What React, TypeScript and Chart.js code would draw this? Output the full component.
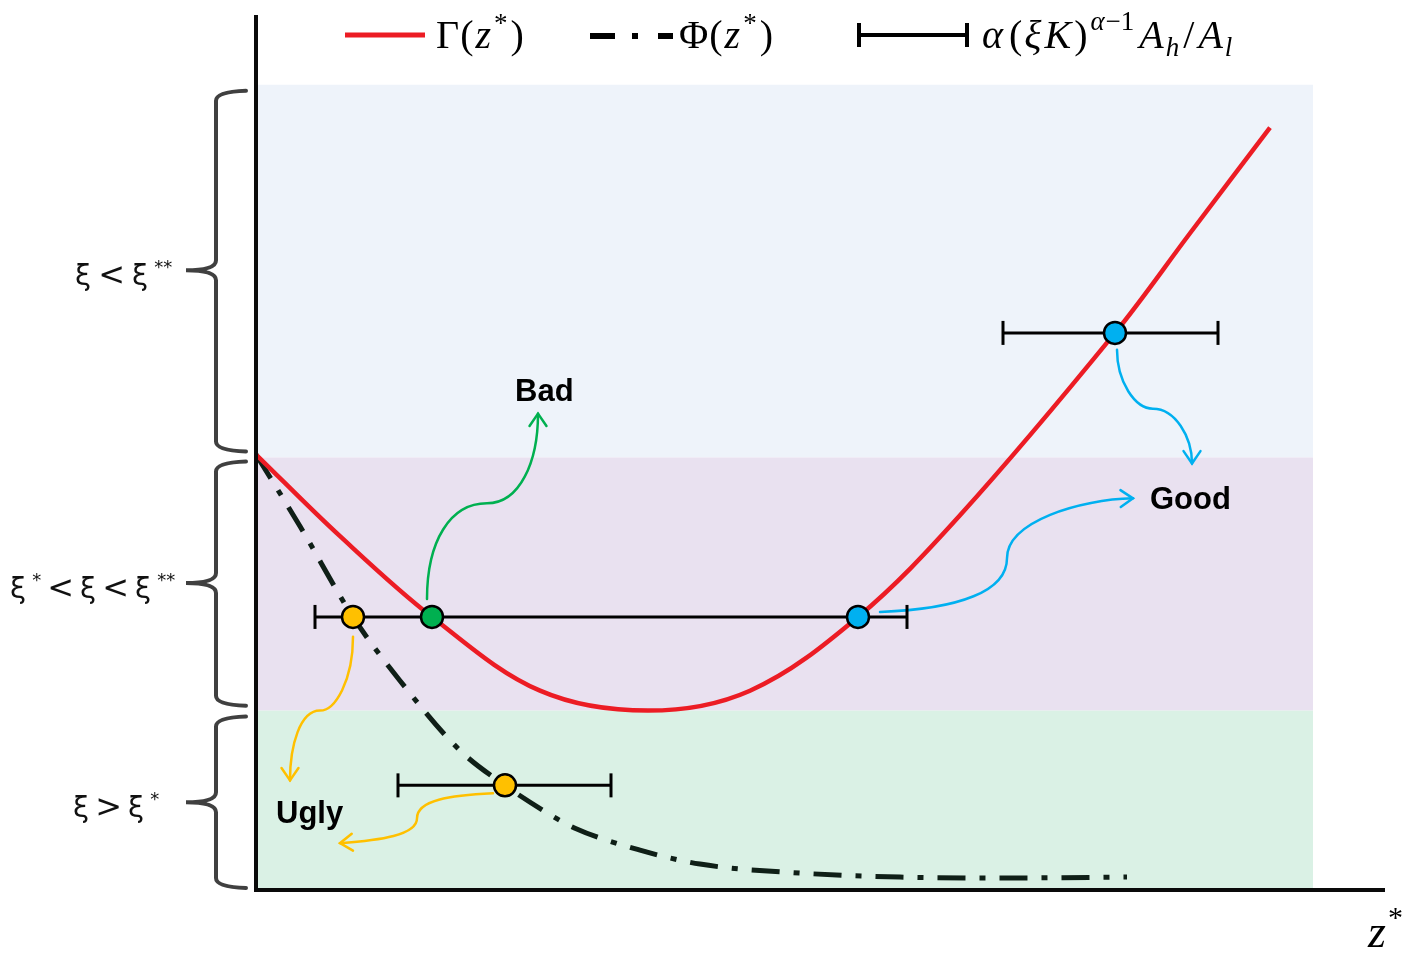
import React, { useEffect, useRef } from 'react';
import { Chart, registerables } from 'chart.js';

Chart.register(...registerables);

// ---- axis ranges (data units) ----
const X_MIN = 0;
const X_MAX = 11.29;
const Y_MIN = 0;
const Y_MAX = 8.78;

// ---- Γ(z*) curve ----
const gammaX = [0, 0.84, 1.76, 2.84, 3.92, 4.94, 6.02, 7.04, 8.59, 9.34, 10.14];
const gammaY = [4.37, 3.55, 2.74, 2.00, 1.80, 2.00, 2.74, 3.76, 5.59, 6.59, 7.65];

// ---- Φ(z*) curve ----
const phiX = [0, 0.44, 0.97, 1.44, 2.04, 2.49, 2.87, 3.19, 3.84, 4.44, 5.44, 6.44, 7.44, 8.71];
const phiY = [4.37, 3.65, 2.74, 2.10, 1.40, 1.05, 0.80, 0.62, 0.40, 0.26, 0.17, 0.13, 0.12, 0.13];

// ---- α(ξK)^{α-1}A_h/A_l ranges ----
const barY = [2.74, 1.05, 5.59];
const barLo = [0.59, 1.42, 7.47];
const barHi = [6.51, 3.55, 9.62];

// ---- equilibrium points ----
const dotX = [0.97, 1.76, 6.02, 2.49, 8.59];
const dotY = [2.74, 2.74, 2.74, 1.05, 5.59];
const dotColors = ['#ffc000', '#00b050', '#00b0f0', '#ffc000', '#00b0f0'];

// ---- regime bands ----
const bandLo = [4.34, 1.80, 0.02];
const bandHi = [8.08, 4.34, 1.80];
const bandEnd = 10.57;
const bandColors = ['#eef3fa', '#e9e1f0', '#daf1e5'];

// ---- regime brackets ----
const bracketTop = [8.02, 4.30, 1.74];
const bracketBottom = [4.40, 1.85, 0.02];
const bracketMid = [6.22, 3.08, 0.88];
const bracketLabelX = [-1.81, -2.46, -1.83];

// ---- outcome labels ----
const outcomeLabels = ['Bad', 'Good', 'Ugly'];
const outcomeX = [2.59, 8.94, 0.20];
const outcomeY = [4.91, 3.82, 0.67];

// ---- arrows (cubic bezier pairs, data units) ----
const arrows: { color: string; pts: number[][] }[] = [
  { color: '#00b050', pts: [[1.71, 2.92], [1.71, 3.50], [1.94, 3.88], [2.31, 3.88], [2.64, 3.88], [2.82, 4.30], [2.82, 4.78]] },
  { color: '#00b0f0', pts: [[8.61, 5.42], [8.61, 5.10], [8.79, 4.83], [8.97, 4.83], [9.19, 4.83], [9.36, 4.55], [9.36, 4.28]] },
  { color: '#00b0f0', pts: [[6.24, 2.79], [7.04, 2.82], [7.51, 3.00], [7.51, 3.33], [7.51, 3.70], [8.24, 3.92], [8.77, 3.93]] },
  { color: '#ffc000', pts: [[0.97, 2.54], [0.97, 2.10], [0.79, 1.80], [0.64, 1.80], [0.44, 1.80], [0.34, 1.45], [0.34, 1.10]] },
  { color: '#ffc000', pts: [[2.37, 0.97], [1.94, 0.95], [1.61, 0.90], [1.61, 0.72], [1.61, 0.55], [1.24, 0.50], [0.84, 0.47]] },
];

const SERIF = '"Liberation Serif", "DejaVu Serif", serif';
const R = `40px ${SERIF}`;
const I = `italic 40px ${SERIF}`;
const SUP = `27px ${SERIF}`;
const SUPI = `italic 27px ${SERIF}`;
const SANS = '"DejaVu Sans", "Noto Sans", sans-serif';
const LN = `29px ${SANS}`;
const LR = `32px ${SANS}`;
const LS = `18px ${SANS}`;

type Part = { t: string; f: string; dy?: number; gap?: number };

function drawRich(ctx: CanvasRenderingContext2D, parts: Part[], x: number, y: number) {
  let cx = x;
  for (const p of parts) {
    ctx.font = p.f;
    ctx.fillText(p.t, cx, y + (p.dy || 0));
    cx += ctx.measureText(p.t).width + (p.gap || 0);
  }
  return cx;
}

const legendGamma: Part[] = [
  { t: 'Γ', f: R, gap: 1 }, { t: '(', f: R, gap: 2 }, { t: 'z', f: I, gap: 3 },
  { t: '*', f: SUP, dy: -16, gap: 3 }, { t: ')', f: R },
];
const legendPhi: Part[] = [
  { t: 'Φ', f: R, gap: 1 }, { t: '(', f: R, gap: 2 }, { t: 'z', f: I, gap: 3 },
  { t: '*', f: SUP, dy: -16, gap: 3 }, { t: ')', f: R },
];
const legendBar: Part[] = [
  { t: 'α', f: I, gap: 6 }, { t: '(', f: R, gap: 2 }, { t: 'ξ', f: I, gap: 3 }, { t: 'K', f: I, gap: 3 },
  { t: ')', f: R, gap: 3 }, { t: 'α', f: SUPI, dy: -18, gap: 1 }, { t: '−1', f: SUP, dy: -18, gap: 5 },
  { t: 'A', f: I, gap: 2 }, { t: 'h', f: SUPI, dy: 8, gap: 4 }, { t: '/', f: R, gap: 4 }, { t: 'A', f: I, gap: 2 }, { t: 'l', f: SUPI, dy: 8 },
];

const bracketLabels: Part[][] = [
  [{ t: 'ξ', f: LN, gap: 7 }, { t: '<', f: LR, gap: 7 }, { t: 'ξ', f: LN, gap: 6 }, { t: '**', f: LS, dy: -12 }],
  [{ t: 'ξ', f: LN, gap: 6 }, { t: '*', f: LS, dy: -12, gap: 6 }, { t: '<', f: LR, gap: 6 }, { t: 'ξ', f: LN, gap: 6 },
   { t: '<', f: LR, gap: 6 }, { t: 'ξ', f: LN, gap: 6 }, { t: '**', f: LS, dy: -12 }],
  [{ t: 'ξ', f: LN, gap: 6 }, { t: '>', f: LR, gap: 6 }, { t: 'ξ', f: LN, gap: 6 }, { t: '*', f: LS, dy: -12 }],
];

const decor = {
  id: 'decor',
  beforeDatasetsDraw(chart: any) {
    const ctx: CanvasRenderingContext2D = chart.ctx;
    const xs = chart.scales.x;
    const ys = chart.scales.y;
    const X = (v: number) => xs.getPixelForValue(v);
    const Y = (v: number) => ys.getPixelForValue(v);
    ctx.save();
    // bands
    for (let i = 0; i < bandLo.length; i++) {
      ctx.fillStyle = bandColors[i];
      ctx.fillRect(X(0), Y(bandHi[i]), X(bandEnd) - X(0), Y(bandLo[i]) - Y(bandHi[i]));
    }
    // arrows
    for (const a of arrows) {
      const p = a.pts.map(([x, y]) => [X(x), Y(y)]);
      ctx.strokeStyle = a.color;
      ctx.lineWidth = 2.5;
      ctx.lineCap = 'round';
      ctx.beginPath();
      ctx.moveTo(p[0][0], p[0][1]);
      ctx.bezierCurveTo(p[1][0], p[1][1], p[2][0], p[2][1], p[3][0], p[3][1]);
      ctx.bezierCurveTo(p[4][0], p[4][1], p[5][0], p[5][1], p[6][0], p[6][1]);
      ctx.stroke();
      const [ex, ey] = p[6];
      const [cx, cy] = p[5];
      const ang = Math.atan2(ey - cy, ex - cx);
      const L = 15;
      const w = 0.6;
      ctx.beginPath();
      ctx.moveTo(ex - L * Math.cos(ang - w), ey - L * Math.sin(ang - w));
      ctx.lineTo(ex, ey);
      ctx.lineTo(ex - L * Math.cos(ang + w), ey - L * Math.sin(ang + w));
      ctx.stroke();
    }
    ctx.restore();
  },
  afterDatasetsDraw(chart: any) {
    const ctx: CanvasRenderingContext2D = chart.ctx;
    const xs = chart.scales.x;
    const ys = chart.scales.y;
    const X = (v: number) => xs.getPixelForValue(v);
    const Y = (v: number) => ys.getPixelForValue(v);
    const area = chart.chartArea;
    ctx.save();
    // axes
    ctx.strokeStyle = '#0a0a0a';
    ctx.lineWidth = 4;
    ctx.lineCap = 'butt';
    ctx.beginPath();
    ctx.moveTo(area.left, area.top);
    ctx.lineTo(area.left, area.bottom + 2);
    ctx.moveTo(area.left - 2, area.bottom);
    ctx.lineTo(area.right, area.bottom);
    ctx.stroke();

    // brackets
    ctx.strokeStyle = '#404040';
    ctx.lineWidth = 4;
    ctx.lineCap = 'round';
    const sx = X(-0.40);
    const hx = X(-0.10);
    const nx = X(-0.70);
    for (let i = 0; i < bracketTop.length; i++) {
      const t = Y(bracketTop[i]);
      const b = Y(bracketBottom[i]);
      const m = Y(bracketMid[i]);
      const r = 10;
      ctx.beginPath();
      ctx.moveTo(hx, t);
      ctx.quadraticCurveTo(sx, t + 1, sx, t + r);
      ctx.lineTo(sx, m - r);
      ctx.quadraticCurveTo(sx, m, nx, m);
      ctx.quadraticCurveTo(sx, m, sx, m + r);
      ctx.lineTo(sx, b - r);
      ctx.quadraticCurveTo(sx, b - 1, hx, b);
      ctx.stroke();
      ctx.fillStyle = '#111';
      ctx.textBaseline = 'alphabetic';
      ctx.textAlign = 'left';
      drawRich(ctx, bracketLabels[i], X(bracketLabelX[i]), m + 15);
    }

    // outcome labels
    ctx.fillStyle = '#000';
    ctx.font = `bold 31px "Liberation Sans", Arial, sans-serif`;
    ctx.textBaseline = 'alphabetic';
    ctx.textAlign = 'left';
    for (let i = 0; i < outcomeLabels.length; i++) {
      ctx.fillText(outcomeLabels[i], X(outcomeX[i]), Y(outcomeY[i]));
    }

    // legend
    ctx.lineCap = 'butt';
    ctx.strokeStyle = '#ec1c24';
    ctx.lineWidth = 5;
    ctx.beginPath();
    ctx.moveTo(345, 35);
    ctx.lineTo(425, 35);
    ctx.stroke();
    ctx.fillStyle = '#000';
    drawRich(ctx, legendGamma, 436, 48);

    ctx.strokeStyle = '#000';
    ctx.lineWidth = 6;
    ctx.setLineDash([25, 17, 6, 20]);
    ctx.beginPath();
    ctx.moveTo(590, 36);
    ctx.lineTo(673, 36);
    ctx.stroke();
    ctx.setLineDash([]);
    drawRich(ctx, legendPhi, 679, 48);

    ctx.lineWidth = 4;
    ctx.beginPath();
    ctx.moveTo(859, 35);
    ctx.lineTo(967, 35);
    ctx.moveTo(859, 23);
    ctx.lineTo(859, 47);
    ctx.moveTo(967, 23);
    ctx.lineTo(967, 47);
    ctx.stroke();
    drawRich(ctx, legendBar, 982, 48);

    // axis title z*
    drawRich(ctx, [
      { t: 'z', f: `italic 46px ${SERIF}`, gap: 2 },
      { t: '*', f: `30px ${SERIF}`, dy: -20 },
    ], 1368, 947);

    ctx.restore();
  },
};

export default function App() {
  const ref = useRef<HTMLCanvasElement>(null);
  useEffect(() => {
    document.body.style.margin = '0';
    document.body.style.overflow = 'hidden';
    const canvas = ref.current!;
    const barSets = barY.map((y, i) => ({
      label: `bar${i}`,
      data: [{ x: barLo[i], y }, { x: barHi[i], y }],
      borderColor: '#000',
      borderWidth: 3,
      pointStyle: 'line',
      pointRotation: 90,
      pointRadius: 12,
      pointBorderWidth: 3,
      pointBorderColor: '#000',
      pointBackgroundColor: '#000',
      fill: false,
    }));
    // Chart.js draws the first dataset on top, so marks are listed top-most first
    const chart = new Chart(canvas, {
      type: 'line',
      data: {
        datasets: [
          {
            label: 'points',
            data: dotX.map((x, i) => ({ x, y: dotY[i] })),
            showLine: false,
            pointRadius: 11,
            pointBackgroundColor: dotColors,
            pointBorderColor: '#000',
            pointBorderWidth: 2.5,
          },
          ...barSets,
          {
            label: 'Γ(z*)',
            data: gammaX.map((x, i) => ({ x, y: gammaY[i] })),
            borderColor: '#ec1c24',
            borderWidth: 4.5,
            pointRadius: 0,
            tension: 0.35,
            fill: false,
          },
          {
            label: 'Φ(z*)',
            data: phiX.map((x, i) => ({ x, y: phiY[i] })),
            borderColor: '#0f1f17',
            borderWidth: 5,
            borderDash: [28, 14, 6, 14],
            borderCapStyle: 'butt',
            pointRadius: 0,
            cubicInterpolationMode: 'monotone',
            fill: false,
          },
        ] as any,
      },
      options: {
        responsive: false,
        animation: false,
        devicePixelRatio: 1,
        events: [],
        layout: { padding: { left: 256, right: 29, top: 12, bottom: 63 } },
        scales: {
          x: { type: 'linear', min: X_MIN, max: X_MAX, display: false },
          y: { type: 'linear', min: Y_MIN, max: Y_MAX, display: false },
        },
        plugins: {
          legend: { display: false },
          tooltip: { enabled: false },
        },
      },
      plugins: [decor],
    });
    return () => chart.destroy();
  }, []);
  return (
    <div style={{ width: 1414, height: 953 }}>
      <canvas ref={ref} width={1414} height={953} style={{ display: 'block' }} />
    </div>
  );
}
